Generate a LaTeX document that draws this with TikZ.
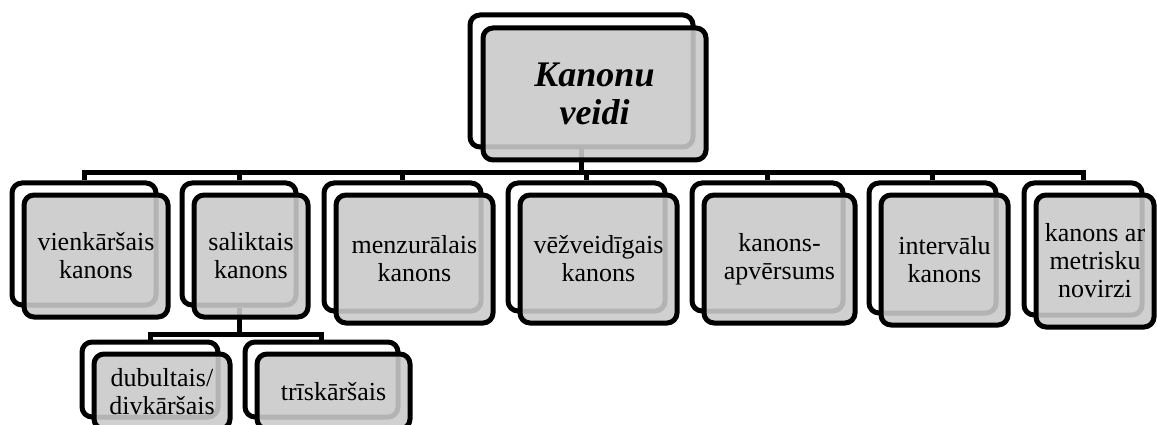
\documentclass[tikz,border=0pt]{standalone}
\usepackage{fontspec}
\setmainfont{Liberation Serif}
\usetikzlibrary{backgrounds}
\definecolor{cardgray}{RGB}{202,202,202}
\tikzset{frame/.style = {shape=rectangle,draw,line width=5pt,rounded corners=10pt,fill=white,inner sep=0pt}}
\tikzset{card/.style = {frame,fill=cardgray,fill opacity=0.89,text opacity=1,align=center,font=\fontsize{26}{28}\selectfont}}
\tikzset{link/.style = {draw,line width=5pt}}

\begin{document}
\begin{tikzpicture}[x=1pt,y=-1pt]
		\useasboundingbox (0,0) rectangle (1157,425);
		\clip (0,0) rectangle (1157,425);
		
		% vertices
		\node[frame,minimum width=223pt,minimum height=132pt] (root-f) at (581.5,81) {};
		\node[card,minimum width=223pt,minimum height=132pt,font=\fontsize{36}{38}\selectfont\bfseries\itshape] (root) at (594.5,94) {Kanonu\\veidi};
		
		\node[frame,minimum width=144pt,minimum height=122pt] (n1-f) at (84,244) {};
		\node[card,minimum width=144pt,minimum height=122pt] (n1) at (96,256) {vienkāršais\\kanons};
		\node[frame,minimum width=114pt,minimum height=122pt] (n2-f) at (239,244) {};
		\node[card,minimum width=114pt,minimum height=122pt] (n2) at (251,256) {saliktais\\kanons};
		\node[frame,minimum width=157pt,minimum height=128pt] (n3-f) at (402.5,247) {};
		\node[card,minimum width=157pt,minimum height=128pt] (n3) at (414.5,259) {menzurālais\\kanons};
		\node[frame,minimum width=157pt,minimum height=128pt] (n4-f) at (586.5,247) {};
		\node[card,minimum width=157pt,minimum height=128pt] (n4) at (598.5,259) {vēžveidīgais\\kanons};
		\node[frame,minimum width=151pt,minimum height=128pt] (n5-f) at (767.5,247) {};
		\node[card,minimum width=151pt,minimum height=128pt] (n5) at (779.5,259) {kanons-\\apvērsums};
		\node[frame,minimum width=127pt,minimum height=130pt] (n6-f) at (932.5,248) {};
		\node[card,minimum width=127pt,minimum height=130pt] (n6) at (944.5,260) {intervālu\\kanons};
		\node[frame,minimum width=118pt,minimum height=132pt] (n7-f) at (1083,249) {};
		\node[card,minimum width=118pt,minimum height=132pt] (n7) at (1095,261) {kanons ar\\metrisku\\novirzi};
		
		\node[frame,minimum width=136pt,minimum height=75pt] (s1-f) at (150,379.5) {};
		\node[card,minimum width=136pt,minimum height=75pt] (s1) at (162,391.5) {dubultais/\\divkāršais};
		\node[frame,minimum width=153pt,minimum height=75pt] (s2-f) at (321.5,379.5) {};
		\node[card,minimum width=153pt,minimum height=75pt] (s2) at (333.5,391.5) {trīskāršais};
		
		%edges
		\begin{scope}[on background layer]
		\foreach \n in {n1,n2,n3,n4,n5,n6,n7}
			\draw[link] (root-f.south) -- ++(0,23) -| (\n-f.north);
		\foreach \n in {s1,s2}
			\draw[link] (n2-f.south) -- ++(0,27) -| (\n-f.north);
		\end{scope}
	\end{tikzpicture}
\end{document}
